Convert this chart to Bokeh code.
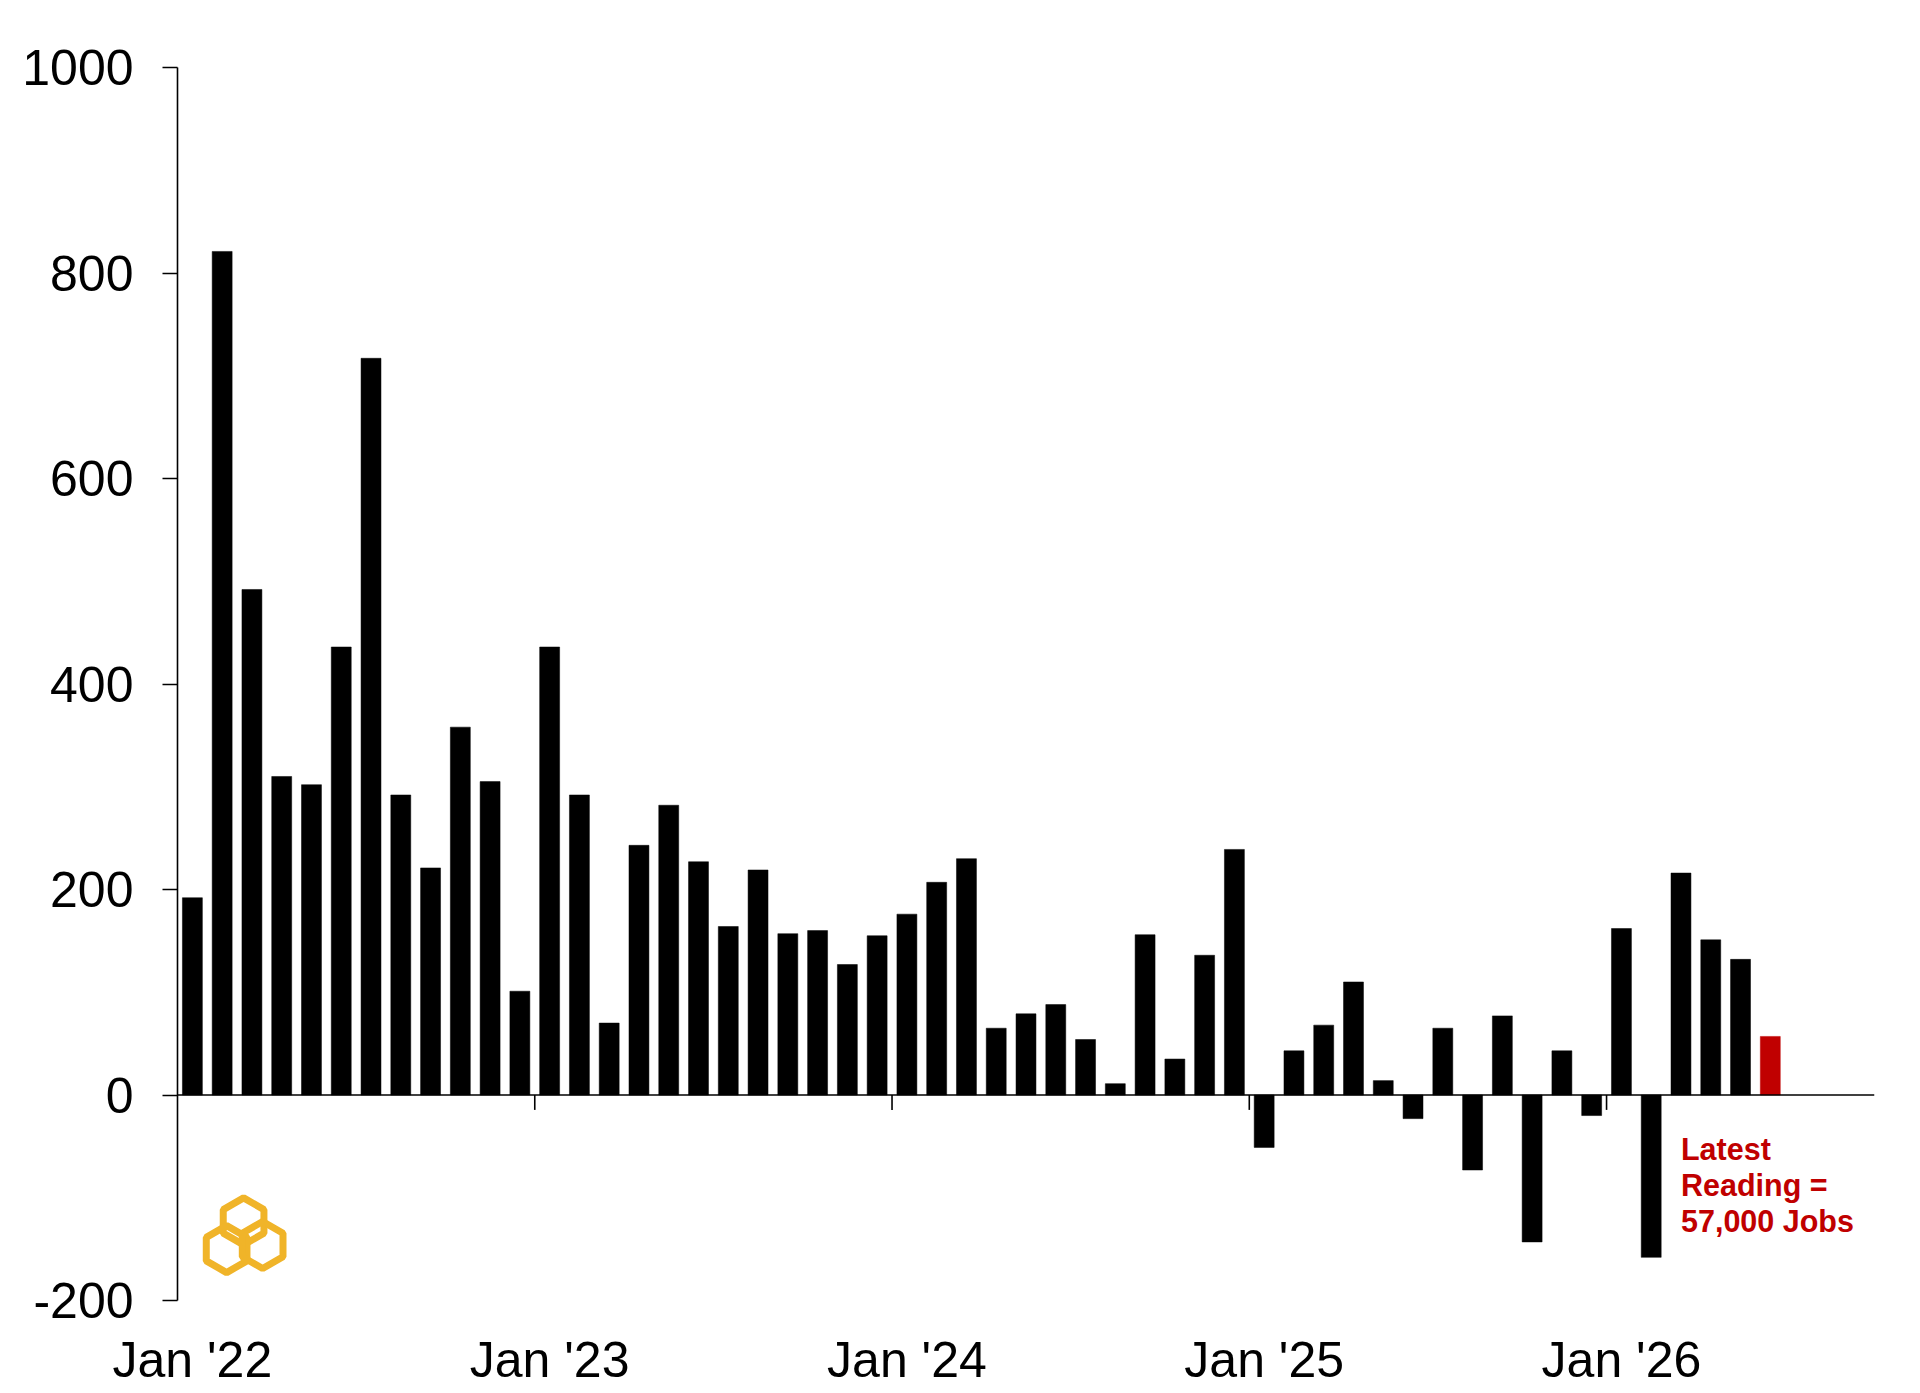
from bokeh.plotting import figure
from bokeh.models import Range1d, FixedTicker, Span, ColumnDataSource
from bokeh.embed import file_html
from bokeh.resources import INLINE
from bokeh.core.properties import value

# Monthly payroll change (thousands of jobs)
jobs_2022 = [192, 821, 492, 310, 302, 436, 717, 292, 221, 358, 305, 101]
jobs_2023 = [436, 292, 70, 243, 282, 227, 164, 219, 157, 160, 127, 155]
jobs_2024 = [176, 207, 230, 65, 79, 88, 54, 11, 156, 35, 136, 239]
jobs_2025 = [-51, 43, 68, 110, 14, -23, 65, -73, 77, -143, 43, -20]
jobs_2026 = [162, -158, 216, 151, 132, 57]

year_labels = ["Jan '22", "Jan '23", "Jan '24", "Jan '25", "Jan '26"]
year_start_month = [0, 12, 24, 36, 48]
y_ticks = [-200, 0, 200, 400, 600, 800, 1000]
note_lines = ["Latest", "Reading =", "57,000 Jobs"]

values = jobs_2022 + jobs_2023 + jobs_2024 + jobs_2025 + jobs_2026
n = len(values)
xs = [i + 0.5 for i in range(n)]
colors = ["#000000"] * (n - 1) + ["#C00000"]

FONT = "Liberation Sans, Arial, sans-serif"

p = figure(width=1910, height=1390,
           x_range=Range1d(0, 57), y_range=Range1d(-200, 1000),
           output_backend="svg", toolbar_location=None,
           min_border_left=177, min_border_right=36,
           min_border_top=67, min_border_bottom=89)
p.xgrid.visible = False
p.ygrid.visible = False
p.outline_line_color = None
p.background_fill_color = "white"
p.border_fill_color = "white"

src = ColumnDataSource(dict(x=xs, top=values, color=colors))
p.vbar(x="x", top="top", bottom=0, width=0.67, fill_color="color",
       line_color="color", line_width=0.5, source=src)

# zero line
p.add_layout(Span(location=0, dimension="width", line_color="#000000", line_width=1.6))

# month-start ticks on the zero line
tick_units = 14.5
p.segment(x0=year_start_month[1:], y0=[0] * 4, x1=year_start_month[1:],
          y1=[-tick_units] * 4, line_color="#000000", line_width=1.6)

# y axis
ya = p.yaxis[0]
ya.ticker = FixedTicker(ticks=y_ticks)
ya.major_label_overrides = {t: str(t) for t in y_ticks}
ya.axis_line_color = "#000000"
ya.axis_line_width = 1.6
ya.major_tick_line_color = "#000000"
ya.major_tick_line_width = 1.6
ya.major_tick_out = 15
ya.major_tick_in = 0
ya.minor_tick_line_color = None
ya.major_label_standoff = 29
ya.major_label_text_font = FONT
ya.major_label_text_font_size = "50px"
ya.major_label_text_color = "#000000"

# x axis (labels at mid-January)
xa = p.xaxis[0]
label_pos = [m + 0.5 for m in year_start_month]
xa.ticker = FixedTicker(ticks=label_pos)
xa.major_label_overrides = {pos: lab for pos, lab in zip(label_pos, year_labels)}
xa.axis_line_color = None
xa.major_tick_line_color = None
xa.minor_tick_line_color = None
xa.major_tick_out = 0
xa.major_tick_in = 0
xa.major_label_standoff = 31
xa.major_label_text_font = FONT
xa.major_label_text_font_size = "50px"
xa.major_label_text_color = "#000000"

# annotation
p.text(x=[50.5] * 3, y=[-53] * 3, y_offset=[0, 36, 72], text=note_lines,
       text_font=value(FONT), text_font_style="bold", text_font_size="30.5px",
       text_color="#C00000", text_baseline="alphabetic", text_align="left")

# logo (three interlocking hexagons)
p.scatter(x=[2.22, 1.65, 2.86], y=[-123, -150, -146], marker="hex", size=47,
          angle=0.5236, fill_alpha=0, line_color="#F0B429", line_width=7)

open("out.html", "w").write(file_html(p, INLINE))
